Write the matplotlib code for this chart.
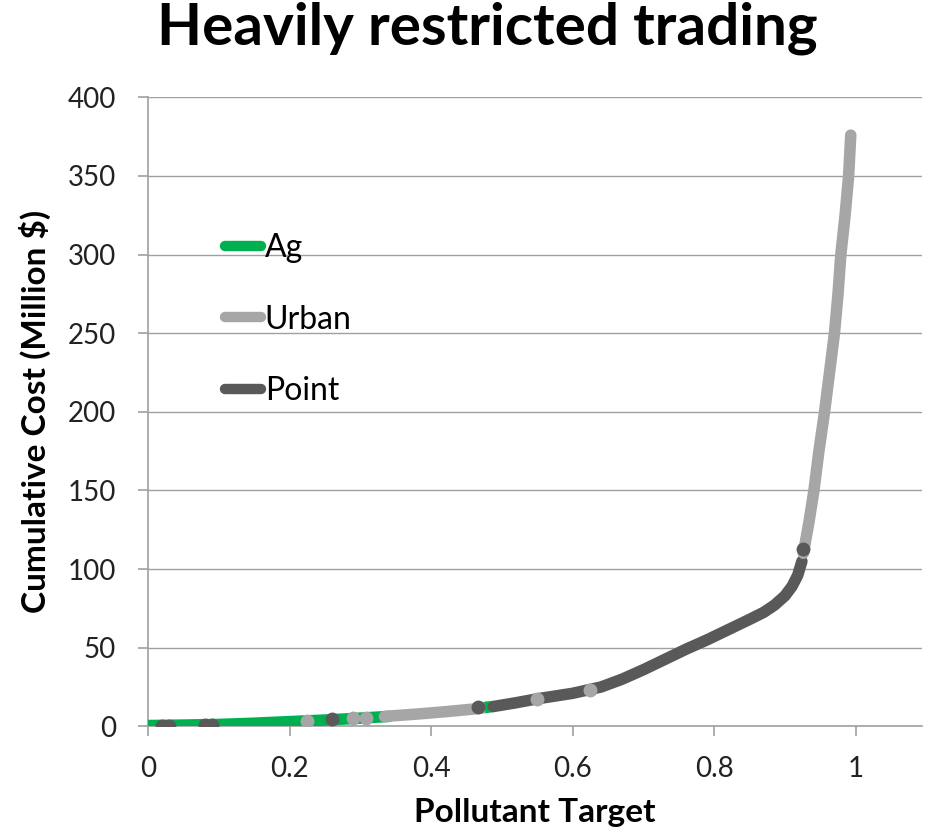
import numpy as np
from matplotlib import pyplot as plt
from matplotlib.lines import Line2D

plt.rcParams['font.family'] = ['Lato', 'DejaVu Sans']

# cost curve pieces, by the source that supplies the reduction
ag_x = [0, 0.05, 0.1, 0.15, 0.2, 0.25, 0.3, 0.34]
ag_y = [0.5, 0.8, 1.2, 2, 3, 4, 5.2, 6.3]

ag2_x = [0.476, 0.488]
ag2_y = [12.0, 12.6]

urban1_x = [0.334, 0.38, 0.42, 0.46, 0.477]
urban1_y = [6.3, 7.8, 9.3, 11, 12.0]

point_x = [0.488, 0.52, 0.55, 0.6, 0.64, 0.67, 0.7, 0.73, 0.76, 0.79,
           0.82, 0.85, 0.87, 0.885, 0.9, 0.91, 0.918, 0.924]
point_y = [12.6, 15, 17.5, 21, 25, 30, 36, 42.5, 49, 55,
           61.5, 68, 72.5, 77, 83, 89, 96, 105]

urban2_x = [0.926, 0.934, 0.941, 0.948, 0.956, 0.963, 0.970, 0.975,
            0.979, 0.985, 0.990, 0.993]
urban2_y = [110, 130, 150, 175, 200, 225, 250, 275, 300, 325, 350, 376]

# single stray points along the curve
point_dot_x = [0.02, 0.03, 0.08, 0.09, 0.26, 0.466, 0.926]
point_dot_y = [0.5, 0.5, 1, 1, 4.5, 12, 113]
urban_dot_x = [0.225, 0.289, 0.308, 0.55, 0.625]
urban_dot_y = [3.5, 5, 5.5, 17.5, 23]

green = '#00b050'
light = '#a6a6a6'
dark = '#595959'

fig = plt.figure(figsize=(9.25, 8.32), dpi=100)
ax = fig.add_axes([0.16, 0.127, 0.837, 0.756])

lw = 8.3
ax.plot(ag_x, ag_y, color=green, lw=lw, solid_capstyle='round', zorder=3)
ax.plot(urban1_x, urban1_y, color=light, lw=lw, solid_capstyle='round', zorder=3)
ax.plot(ag2_x, ag2_y, color=green, lw=lw, solid_capstyle='butt', zorder=3)
ax.plot(point_x, point_y, color=dark, lw=lw, solid_capstyle='round',
        solid_joinstyle='round', zorder=3)
ax.plot(urban2_x, urban2_y, color=light, lw=lw, solid_capstyle='round',
        solid_joinstyle='round', zorder=3)
ax.scatter(urban_dot_x, urban_dot_y, s=100, color=light, zorder=4, lw=0)
ax.scatter(point_dot_x, point_dot_y, s=100, color=dark, zorder=4, lw=0)

ax.set_xlim(0, 1.094)
ax.set_ylim(0, 400)
ax.set_xticks([0, 0.2, 0.4, 0.6, 0.8, 1])
ax.set_xticklabels(['0', '0.2', '0.4', '0.6', '0.8', '1'])
ax.set_yticks(range(0, 401, 50))
ax.yaxis.grid(True, color='#a0a0a0', lw=1)
ax.set_axisbelow(True)
for s in ['top', 'right']:
    ax.spines[s].set_visible(False)
for s in ['left', 'bottom']:
    ax.spines[s].set_color('#a0a0a0')
    ax.spines[s].set_linewidth(1.2)
ax.tick_params(axis='both', labelsize=20, color='#a0a0a0', length=7,
               width=1.2, labelcolor='#222222')
ax.tick_params(axis='x', pad=14)
ax.tick_params(axis='y', pad=16)

ax.set_xlabel('Pollutant Target', fontsize=24, fontweight='bold', labelpad=12)
ax.set_ylabel('Cumulative Cost (Million $)', fontsize=24, fontweight='bold',
              labelpad=12)
fig.suptitle('Heavily restricted trading', fontsize=42, fontweight='bold',
             x=0.527, y=0.998)

handles = [Line2D([], [], color=c, lw=7.5, solid_capstyle='round')
           for c in (green, light, dark)]
ax.legend(handles, ['Ag', 'Urban', 'Point'], loc='upper left',
          bbox_to_anchor=(0.062, 0.83), frameon=False, fontsize=23,
          handlelength=1.15, handletextpad=0.1, labelspacing=1.3)

fig.savefig('out.png', dpi=100)
